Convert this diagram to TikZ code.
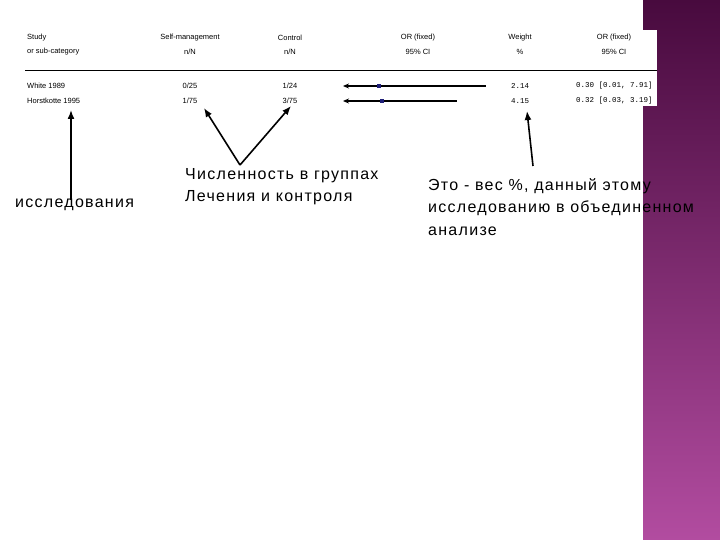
\documentclass[tikz,border=0pt]{standalone}
\usepackage{fontspec}
\usetikzlibrary{arrows.meta}
\setmainfont{Liberation Sans}
\newfontfamily\monof{Liberation Mono}
\newfontfamily\labf[LetterSpace=8]{Liberation Sans}
\begin{document}
\begin{tikzpicture}[x=1pt,y=-1pt,
  tab/.style={font=\fontsize{7.5}{9}\selectfont,inner sep=0pt,align=center},
  tabl/.style={font=\fontsize{7.5}{9}\selectfont,inner sep=0pt,anchor=west},
  num/.style={font=\monof\fontsize{7.5}{9}\selectfont,inner sep=0pt},
  lab/.style={font=\labf\fontsize{16}{22.5}\selectfont,inner sep=0pt,anchor=north west,align=left},
  arr/.style={-{Latex[length=9pt,width=7pt]},line width=1.6pt},
  forest/.style={{Stealth[length=6pt,width=5pt]}-,line width=1.6pt}]
\useasboundingbox (0,0) rectangle (720,540);
\fill[white] (0,0) rectangle (720,540);
\shade[top color={rgb,255:red,72;green,10;blue,62}, bottom color={rgb,255:red,178;green,76;blue,160}] (643,0) rectangle (720,540);
\fill[white] (600,30) rectangle (657,106);
% table header
\node[tabl] (h1) at (27,38) {Study};
\node[tabl] (h2) at (27,52) {or sub-category};
\node[tab] (h3) at (190,38) {Self-management};
\node[tab] (h4) at (190,52) {n/N};
\node[tab] (h5) at (290,38) {Control};
\node[tab] (h6) at (290,52) {n/N};
\node[tab] (h7) at (418,38) {OR (fixed)};
\node[tab] (h8) at (418,52) {95\% CI};
\node[tab] (h9) at (520,38) {Weight};
\node[tab] (h10) at (520,52) {\%};
\node[tab] (h11) at (614,38) {OR (fixed)};
\node[tab] (h12) at (614,52) {95\% CI};
\coordinate (r0) at (25,70); \coordinate (r1) at (657,70);
\draw[line width=0.8pt] (r0) -- (r1);
\node[tabl] (s1) at (27,86) {White 1989};
\node[tabl] (s2) at (27,101) {Horstkotte 1995};
\node[tab] (a1) at (190,86) {0/25};
\node[tab] (a2) at (190,101) {1/75};
\node[tab] (c1) at (290,86) {1/24};
\node[tab] (c2) at (290,101) {3/75};
\coordinate (f1a) at (343,86); \coordinate (f1b) at (486,86);
\coordinate (f2a) at (343,101); \coordinate (f2b) at (457,101);
\draw[forest] (f1a) -- (f1b);
\draw[forest] (f2a) -- (f2b);
\node[fill={rgb,255:red,30;green,30;blue,120},minimum size=3.5pt,inner sep=0pt] (q1) at (379,86) {};
\node[fill={rgb,255:red,30;green,30;blue,120},minimum size=3.5pt,inner sep=0pt] (q2) at (382,101) {};
\node[num] (w1) at (520,86) {2.14};
\node[num] (w2) at (520,101) {4.15};
\node[num,anchor=west] (o1) at (576,86) {0.30 [0.01, 7.91]};
\node[num,anchor=west] (o2) at (576,101) {0.32 [0.03, 3.19]};
% labels
\node[lab] (L1) at (15,199) {исследования};
\node[lab] (L2) at (185,168) {Численность в группах\\Лечения и контроля};
\node[lab] (L3) at (428,178) {Это - вес \%, данный этому\\исследованию в объединенном\\анализе};
\coordinate (p1) at (71,200); \coordinate (t1) at (71,110);
\coordinate (v) at (240,165); \coordinate (t2) at (204,108); \coordinate (t3) at (291,106);
\coordinate (p4) at (533,166); \coordinate (t4) at (527,111);
\draw[arr] (p1) -- (t1);
\draw[arr] (v) -- (t2);
\draw[arr] (v) -- (t3);
\draw[arr] (p4) -- (t4);
\end{tikzpicture}
\end{document}
